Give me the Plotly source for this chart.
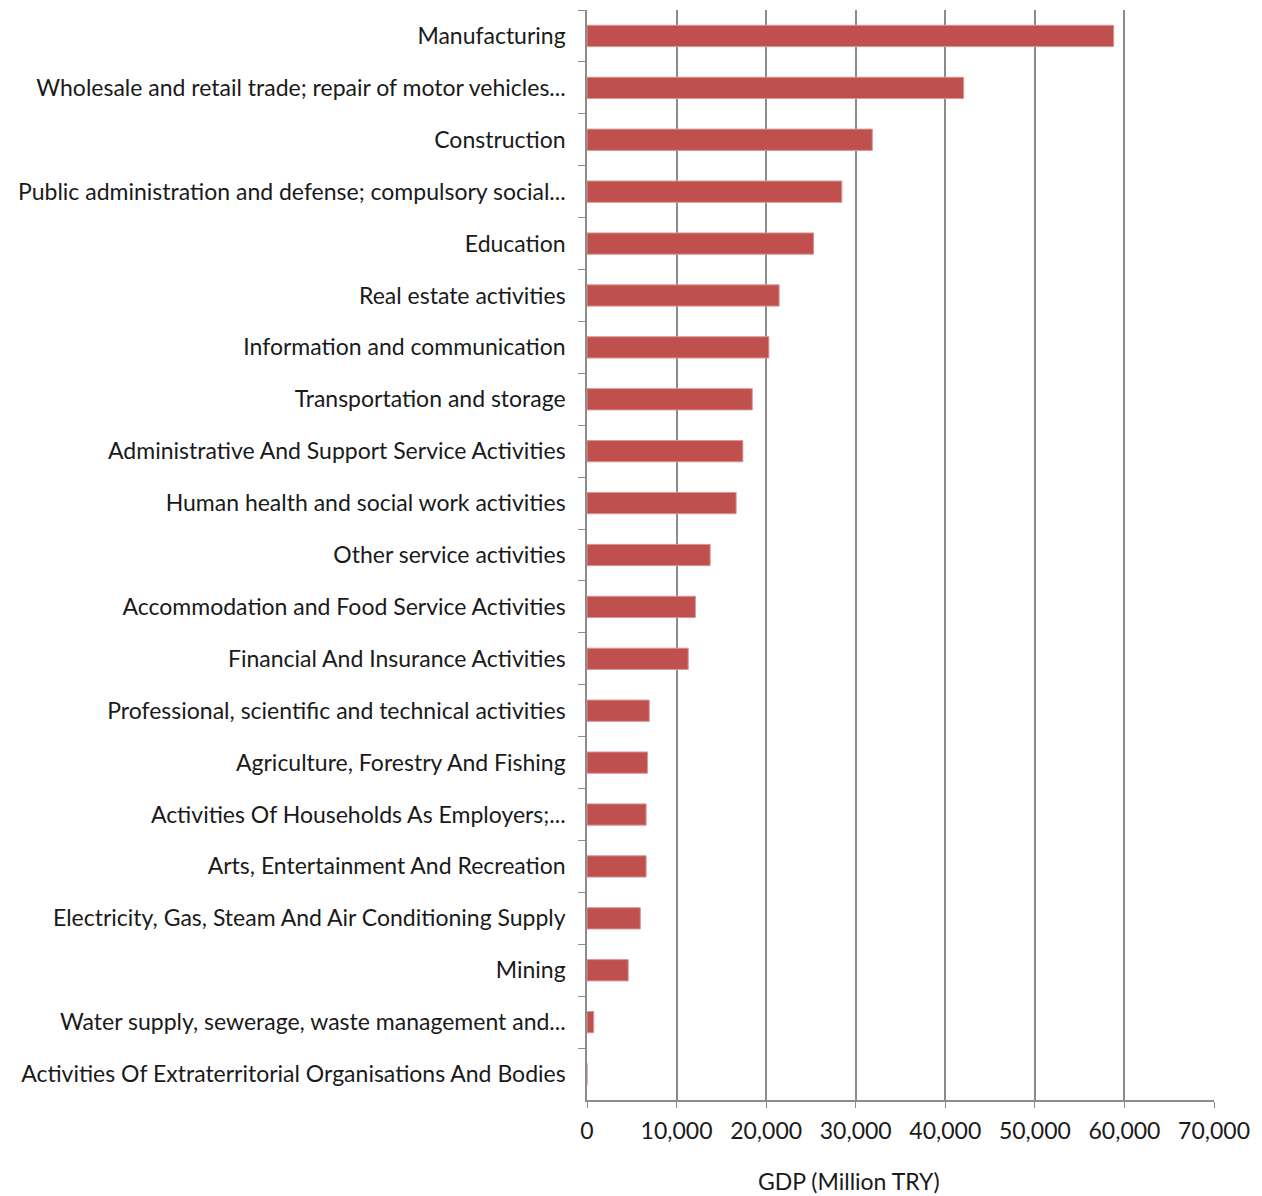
import plotly.graph_objects as go

categories = [
    "Manufacturing",
    "Wholesale and retail trade; repair of motor vehicles...",
    "Construction",
    "Public administration and defense; compulsory social...",
    "Education",
    "Real estate activities",
    "Information and communication",
    "Transportation and storage",
    "Administrative And Support Service Activities",
    "Human health and social work activities",
    "Other service activities",
    "Accommodation and Food Service Activities",
    "Financial And Insurance Activities",
    "Professional, scientific and technical activities",
    "Agriculture, Forestry And Fishing",
    "Activities Of Households As Employers;...",
    "Arts, Entertainment And Recreation",
    "Electricity, Gas, Steam And Air Conditioning Supply",
    "Mining",
    "Water supply, sewerage, waste management and...",
    "Activities Of Extraterritorial Organisations And Bodies",
]
gdp_values = [
    58800, 42050, 31850, 28450, 25300, 21450, 20300, 18450, 17400, 16650,
    13750, 12100, 11300, 6950, 6750, 6600, 6600, 5950, 4600, 750, 0,
]
x_tick_values = [0, 10000, 20000, 30000, 40000, 50000, 60000, 70000]
x_tick_labels = ["0", "10,000", "20,000", "30,000", "40,000", "50,000", "60,000", "70,000"]
x_title = "GDP (Million TRY)"

fig = go.Figure(go.Bar(
    x=gdp_values,
    y=categories,
    orientation="h",
    marker=dict(color="#C0504D", line=dict(color="#D99694", width=1)),
    width=0.41,
))

font_family = "Lato, Open Sans, sans-serif"
grid_col = "#8C8C8C"
text_col = "#1A1A1A"

fig.update_layout(
    width=1262,
    height=1196,
    margin=dict(l=579, r=56, t=2, b=104),
    paper_bgcolor="white",
    plot_bgcolor="white",
    showlegend=False,
    font=dict(family=font_family, size=23, color=text_col),
    xaxis=dict(
        range=[0, 70000],
        tickvals=x_tick_values,
        ticktext=x_tick_labels,
        showgrid=True,
        gridcolor=grid_col,
        gridwidth=1.5,
        zeroline=False,
        showline=True,
        linecolor=grid_col,
        linewidth=1.5,
        ticks="outside",
        ticklen=6,
        tickcolor=grid_col,
        ticklabelstandoff=4,
        tickfont=dict(size=23, color=text_col),
        automargin=False,
        fixedrange=True,
    ),
    yaxis=dict(
        categoryorder="array",
        categoryarray=categories,
        autorange="reversed",
        showline=True,
        linecolor=grid_col,
        linewidth=1.5,
        ticks="outside",
        ticklen=7,
        tickcolor=grid_col,
        tickson="boundaries",
        showgrid=False,
        ticklabelstandoff=15,
        tickfont=dict(size=23, color=text_col),
        automargin=False,
    ),
    annotations=[dict(
        text=x_title,
        xref="paper", yref="paper",
        x=0.418, y=-0.0743,
        xanchor="center", yanchor="middle",
        showarrow=False,
        font=dict(size=23, color=text_col),
    )],
)

fig.write_html("out.html")
